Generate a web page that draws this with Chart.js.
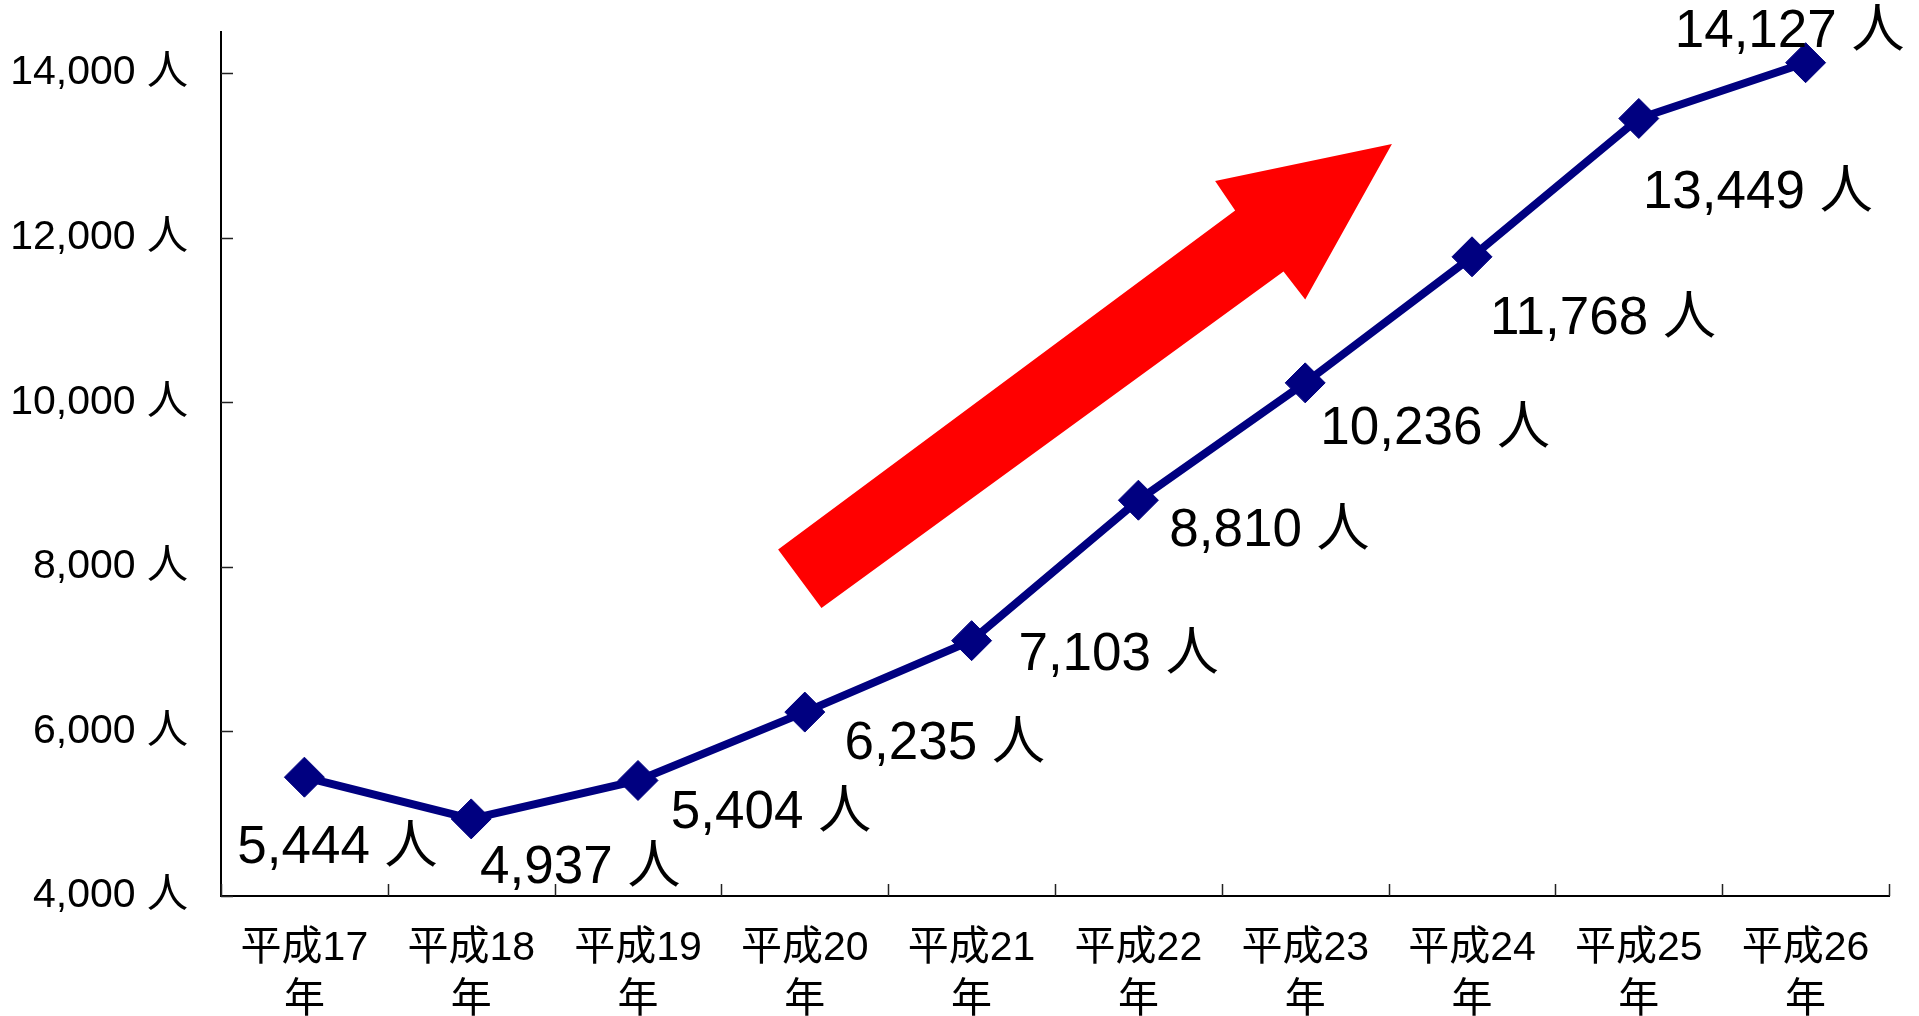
<!DOCTYPE html>
<html lang="ja">
<head>
<meta charset="utf-8">
<script src="https://cdn.jsdelivr.net/npm/chart.js@4.4.1/dist/chart.umd.min.js"></script>
<style>
  html, body { margin: 0; padding: 0; background: #fff; }
  #wrap { width: 1919px; height: 1016px; }
</style>
</head>
<body>
<div id="wrap"><canvas id="visitors-chart"></canvas></div>
<script>
const years = [
  ["平成17", "年"], ["平成18", "年"], ["平成19", "年"], ["平成20", "年"], ["平成21", "年"],
  ["平成22", "年"], ["平成23", "年"], ["平成24", "年"], ["平成25", "年"], ["平成26", "年"]
];
const visitors = [5444, 4937, 5404, 6235, 7103, 8810, 10236, 11768, 13449, 14127];
const yTicks = [4000, 6000, 8000, 10000, 12000, 14000];
const unit = "人";

// where each value label sits, relative to its point (px)
const labelShift = [[33, 67], [109, 45], [133, 28], [140, 28], [147, 10],
                    [131, 27], [130, 42], [131, 58], [119, 70], [-16, -35]];

// red "rising" arrow outline, in (category index, value) units
const arrowOutline = [
  [2.84, 8210], [5.58, 12330], [5.46, 12690], [6.52, 13140],
  [6.00, 11250], [5.87, 11590], [3.10, 7500]
];

const FONT = "'Liberation Sans', 'Noto Sans CJK JP', sans-serif";

function fmt(v){
  return v.toLocaleString("en-US") + " " + unit;
}

const innerTicks = {
  id: "innerTicks",
  afterDraw(chart){
    const {ctx, chartArea, scales: {x, y}} = chart;
    ctx.save();
    ctx.strokeStyle = "#222";
    ctx.lineWidth = 1.5;
    ctx.beginPath();
    yTicks.forEach(function(v){
      const py = Math.round(y.getPixelForValue(v)) + 0.5;
      ctx.moveTo(chartArea.left, py);
      ctx.lineTo(chartArea.left + 12, py);
    });
    for(let i = 0; i <= years.length; i += 1){
      const px = Math.round(x.getPixelForValue(i - 0.5)) + 0.5;
      ctx.moveTo(px, chartArea.bottom);
      ctx.lineTo(px, chartArea.bottom - 12);
    }
    ctx.stroke();
    ctx.restore();
  }
};

const riseArrow = {
  id: "riseArrow",
  beforeDatasetsDraw(chart){
    const {ctx, scales: {x, y}} = chart;
    ctx.save();
    ctx.fillStyle = "#ff0000";
    ctx.beginPath();
    arrowOutline.forEach(function(p, i){
      const px = x.getPixelForValue(p[0]);
      const py = y.getPixelForValue(p[1]);
      if(i === 0){ ctx.moveTo(px, py); } else { ctx.lineTo(px, py); }
    });
    ctx.closePath();
    ctx.fill();
    ctx.restore();
  }
};

const valueLabels = {
  id: "valueLabels",
  afterDatasetsDraw(chart){
    const {ctx} = chart;
    const meta = chart.getDatasetMeta(0);
    const size = 53;
    ctx.save();
    ctx.fillStyle = "#000";
    ctx.font = size + "px " + FONT;
    ctx.textAlign = "center";
    ctx.textBaseline = "alphabetic";
    meta.data.forEach(function(pt, i){
      const s = labelShift[i];
      ctx.fillText(fmt(visitors[i]), pt.x + s[0], pt.y + s[1] + size * 0.36);
    });
    ctx.restore();
  }
};

const ctx = document.getElementById("visitors-chart");

new Chart(ctx, {
  type: "line",
  data: {
    labels: years,
    datasets: [{
      data: visitors,
      borderColor: "#000080",
      backgroundColor: "#000080",
      borderWidth: 8,
      tension: 0,
      pointStyle: "rectRot",
      pointRadius: 20,
      pointBorderWidth: 1,
      pointBackgroundColor: "#000080",
      pointBorderColor: "#000080"
    }]
  },
  options: {
    responsive: true,
    maintainAspectRatio: false,
    animation: false,
    layout: { padding: { top: 32, right: 30, left: 0, bottom: 0 } },
    plugins: {
      legend: { display: false },
      tooltip: { enabled: false }
    },
    scales: {
      x: {
        offset: true,
        afterFit: function(scale){
          scale.height = 120;
          scale.paddingLeft = 0;
          scale.paddingRight = 0;
        },
        border: { color: "#000", width: 2 },
        grid: { display: false, drawTicks: false },
        ticks: {
          color: "#000",
          padding: 27,
          maxRotation: 0,
          autoSkip: false,
          font: { family: FONT, size: 41, lineHeight: 1.27 }
        }
      },
      y: {
        min: 4000,
        max: 14500,
        afterBuildTicks: function(scale){
          scale.ticks = yTicks.map(function(v){ return {value: v}; });
        },
        afterFit: function(scale){
          scale.width = 221;
          scale.paddingTop = 0;
          scale.paddingBottom = 0;
        },
        border: { color: "#000", width: 2 },
        grid: { display: false, drawTicks: false },
        ticks: {
          color: "#000",
          padding: 33,
          font: { family: FONT, size: 41 },
          callback: function(v){ return fmt(v); }
        }
      }
    }
  },
  plugins: [riseArrow, valueLabels, innerTicks]
});
</script>
</body>
</html>
